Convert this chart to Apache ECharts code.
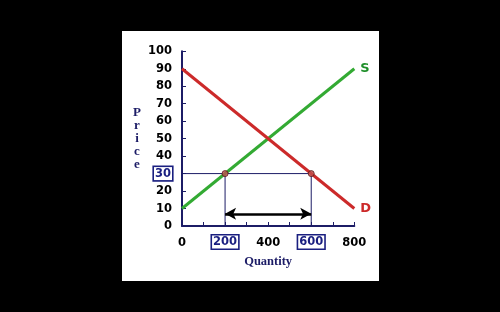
<!DOCTYPE html>
<html><head><meta charset="utf-8">
<script src="https://cdn.jsdelivr.net/npm/echarts@6/dist/echarts.min.js"></script>
<style>html,body{margin:0;padding:0;background:#000}#c{width:500px;height:312px}</style>
</head><body><div id="c"></div>
<script>
// Data
const qEnds = [0, 800];
const supplyPrice = [10, 90];
const demandPrice = [90, 10];
const priceFloor = 30;
const qSupplied = 200;
const qDemanded = 600;
const arrowPrice = 7;
const boxedX = [200, 600];
const boxedY = [30];

const navy = '#1c1c66';
const boxBlue = '#1a1f80';
const chart = echarts.init(document.getElementById('c'), null, {renderer: 'canvas'});
const lbl = {fontFamily: 'DejaVu Sans', fontWeight: 'bold', fontSize: 11.5, color: '#000'};
const boxStyle = {fontFamily: 'DejaVu Sans', fontWeight: 'bold', fontSize: 11.5, color: boxBlue, lineHeight: 10,
  borderColor: boxBlue, borderWidth: 1.6, padding: [1, 1, 0, 1], backgroundColor: '#fff'};

chart.setOption({
  backgroundColor: '#000',
  animation: false,
  graphic: [{type: 'rect', z: -10, shape: {x: 122, y: 31, width: 257, height: 250}, style: {fill: '#fff'}}],
  grid: {left: 182, top: 51.3, right: 145.7, bottom: 86, containLabel: false},
  xAxis: {
    type: 'value', min: 0, max: 800, interval: 200,
    axisLine: {show: true, lineStyle: {color: navy, width: 2}},
    axisTick: {show: true, inside: true, length: 4, lineStyle: {color: navy, width: 1}},
    minorTick: {show: true, splitNumber: 2, length: 4, lineStyle: {color: navy, width: 1}},
    splitLine: {show: false},
    axisLabel: {margin: 11, formatter: v => boxedX.includes(v) ? '{b|' + v + '}' : '{n|' + v + '}',
      rich: {n: lbl, b: boxStyle}},
    name: 'Quantity', nameLocation: 'middle', nameGap: 36,
    nameTextStyle: {fontFamily: 'Liberation Serif', fontWeight: 'bold', fontSize: 12.5, color: navy, verticalAlign: 'middle'}
  },
  yAxis: {
    type: 'value', min: 0, max: 100, interval: 10,
    axisLine: {show: true, lineStyle: {color: navy, width: 2}},
    axisTick: {show: true, inside: true, length: 4, lineStyle: {color: navy, width: 1}},
    splitLine: {show: false},
    axisLabel: {margin: 10, formatter: v => boxedY.includes(v) ? '{b|' + v + '}' : '{n|' + v + '}',
      rich: {n: lbl, b: boxStyle}},
    name: 'P\nr\ni\nc\ne', nameLocation: 'middle', nameGap: 45, nameRotate: 0,
    nameTextStyle: {fontFamily: 'Liberation Serif', fontWeight: 'bold', fontSize: 13, color: navy,
      lineHeight: 13.2, align: 'center', verticalAlign: 'middle'}
  },
  series: [
    {type: 'line', data: [[0, priceFloor], [qDemanded, priceFloor]], symbol: 'none',
      lineStyle: {color: navy, width: 1}, z: 1},
    {type: 'line', data: [[qSupplied, 0], [qSupplied, priceFloor]], symbol: 'none',
      lineStyle: {color: navy, width: 1}, z: 1},
    {type: 'line', data: [[qDemanded, 0], [qDemanded, priceFloor]], symbol: 'none',
      lineStyle: {color: navy, width: 1}, z: 1,
      markLine: {silent: true, symbol: ['arrow', 'arrow'], symbolSize: [9, 11],
        lineStyle: {color: '#000', width: 2.5, type: 'solid'}, label: {show: false},
        data: [[{coord: [qSupplied, arrowPrice]}, {coord: [qDemanded, arrowPrice]}]]}},
    {type: 'line', name: 'S', data: qEnds.map((q, i) => [q, supplyPrice[i]]), symbol: 'none',
      lineStyle: {color: '#33aa33', width: 3}, z: 3,
      endLabel: {show: true, formatter: 'S', distance: 6,
        fontFamily: 'DejaVu Sans', fontWeight: 'bold', fontSize: 13, color: '#1f8f2a'}},
    {type: 'line', name: 'D', data: qEnds.map((q, i) => [q, demandPrice[i]]), symbol: 'none',
      lineStyle: {color: '#cc2a2a', width: 3}, z: 3,
      endLabel: {show: true, formatter: 'D', distance: 6,
        fontFamily: 'DejaVu Sans', fontWeight: 'bold', fontSize: 13, color: '#cc2a2a'}},
    {type: 'scatter', data: [[qSupplied, priceFloor], [qDemanded, priceFloor]], symbolSize: 6,
      itemStyle: {color: '#c0504d', borderColor: '#5a1a1a', borderWidth: 1}, z: 5}
  ]
});
</script></body></html>
